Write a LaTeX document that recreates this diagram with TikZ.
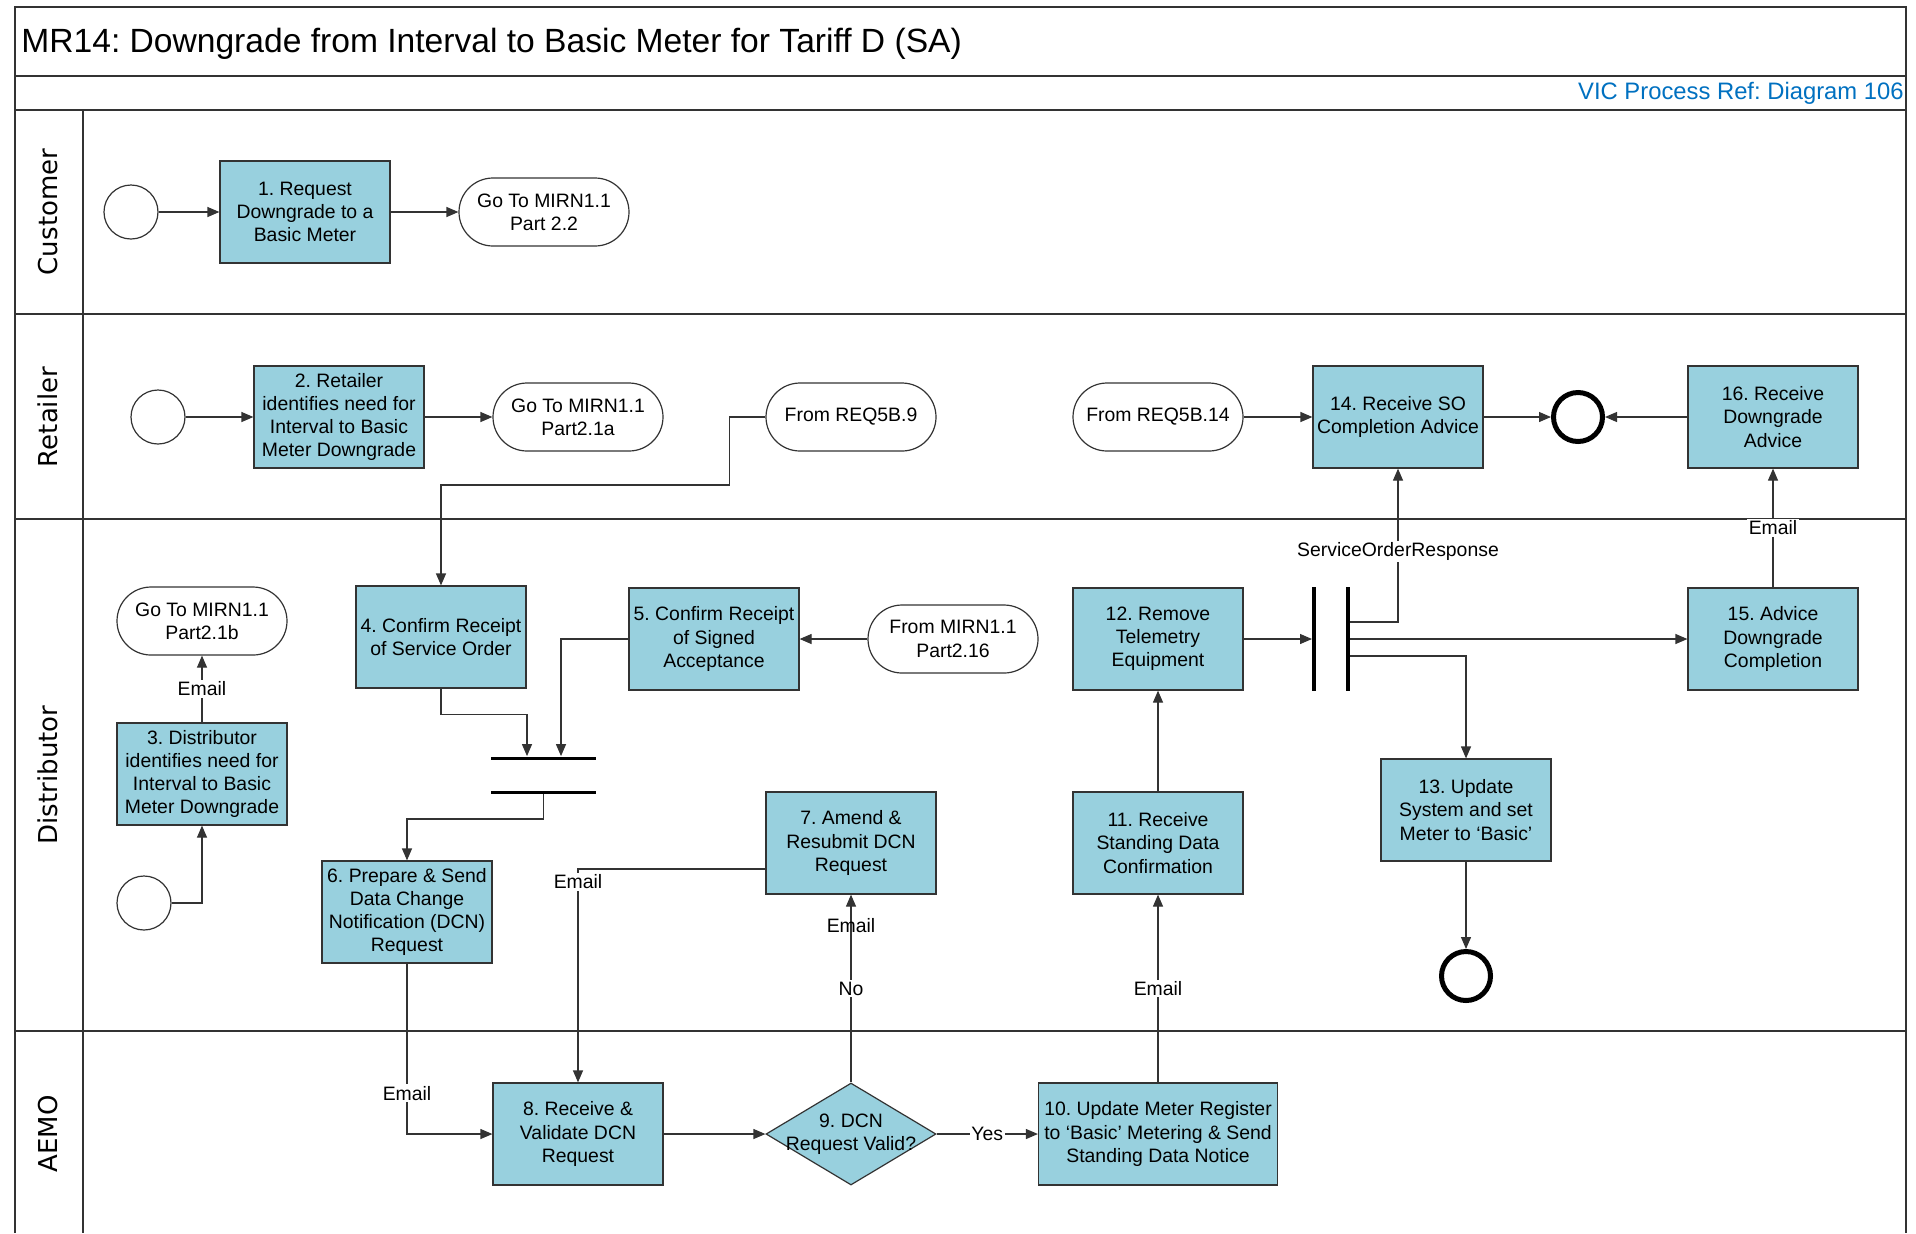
\documentclass[tikz,border=0pt]{standalone}
\usepackage{fontspec}
\setmainfont{Liberation Sans}
\newfontfamily\lanefont{DejaVu Sans}
\usetikzlibrary{shapes.geometric, arrows.meta}
\definecolor{taskblue}{RGB}{152,208,222}
\definecolor{refblue}{RGB}{0,112,192}
\frenchspacing
\tikzset{
  font={\fontsize{9.7pt}{11.6pt}\selectfont},
  task/.style={draw=black!80, fill=taskblue, line width=0.6pt, shape=rectangle, minimum width=85pt, minimum height=51pt, align=center, inner sep=1pt},
  link/.style={draw=black!80, fill=white, line width=0.6pt, shape=rectangle, rounded corners=17pt, minimum width=85pt, minimum height=34pt, align=center},
  startev/.style={draw=black!80, line width=0.6pt, shape=circle, minimum size=27pt, inner sep=0pt},
  endev/.style={draw=black, line width=2.5pt, shape=circle, minimum size=24.5pt, inner sep=0pt},
  decision/.style={draw=black!80, fill=taskblue, line width=0.6pt, shape=diamond, minimum width=85pt, minimum height=51pt, inner sep=0pt},
  vbar/.style={fill=black, shape=rectangle, minimum width=1.6pt, minimum height=52pt, inner sep=0pt},
  hbar/.style={fill=black, shape=rectangle, minimum width=52.5pt, minimum height=1.5pt, inner sep=0pt},
  flow/.style={draw=black!80, line width=0.6pt, -{Triangle[length=6pt,width=5pt]}},
  tag/.style={fill=white, inner sep=0.8pt},
  lanetitle/.style={font={\lanefont\fontsize{13pt}{15pt}\selectfont}, rotate=90},
  border/.style={draw=black!80, line width=0.9pt}
}
\begin{document}
\begin{tikzpicture}[x=0.5pt, y=-0.5pt]
\useasboundingbox (0,0) rectangle (1916,1233);
\draw[border] (15,1233) -- (15,7) -- (1906,7) -- (1906,1233);
\draw[border] (15,76) -- (1906,76) (15,110) -- (1906,110) (15,314) -- (1906,314)
  (15,519) -- (1906,519) (15,1031) -- (1906,1031) (83,110) -- (83,1233);

\node (title) [anchor=base west, inner sep=0pt, font={\fontsize{16.8pt}{20pt}\selectfont}] at (21,52) {MR14: Downgrade from Interval to Basic Meter for Tariff D (SA)};
\node (ref) [anchor=base east, inner sep=0pt, text=refblue, font={\fontsize{11.9pt}{14pt}\selectfont}] at (1904,99) {VIC Process Ref: Diagram 106};

\node (lc) [lanetitle] at (48,212) {Customer};
\node (lr) [lanetitle] at (48,417) {Retailer};
\node (ld) [lanetitle] at (48,775) {Distributor};
\node (la) [lanetitle] at (48,1134) {AEMO};

\node (s1) [startev] at (131,212) {};
\node (b1) [task] at (305,212) {1. Request\\Downgrade to a\\Basic Meter};
\node (go22) [link] at (544,212) {Go To MIRN1.1\\Part 2.2};

\node (s2) [startev] at (158,417) {};
\node (b2) [task] at (339,417) {2. Retailer\\identifies need for\\Interval to Basic\\Meter Downgrade};
\node (go21a) [link] at (578,417) {Go To MIRN1.1\\Part2.1a};
\node (req9) [link] at (851,417) {From REQ5B.9};
\node (req14) [link] at (1158,417) {From REQ5B.14};
\node (b14) [task] at (1398,417) {14. Receive SO\\Completion Advice};
\node (endr) [endev] at (1578,417) {};
\node (b16) [task] at (1773,417) {16. Receive\\Downgrade\\Advice};

\node (go21b) [link] at (202,621) {Go To MIRN1.1\\Part2.1b};
\node (b3) [task] at (202,774) {3. Distributor\\identifies need for\\Interval to Basic\\Meter Downgrade};
\node (s3) [startev] at (144,903) {};
\node (b4) [task] at (441,637) {4. Confirm Receipt\\of Service Order};
\node (b5) [task] at (714,639) {5. Confirm Receipt\\of Signed\\Acceptance};
\node (mirn216) [link] at (953,639) {From MIRN1.1\\Part2.16};
\node (b12) [task] at (1158,639) {12. Remove\\Telemetry\\Equipment};
\node (fk1) [vbar] at (1314,639) {};
\node (fk2) [vbar] at (1348,639) {};
\node (b15) [task] at (1773,639) {15. Advice\\Downgrade\\Completion};
\node (jn1) [hbar] at (543.5,758) {};
\node (jn2) [hbar] at (543.5,792) {};
\node (b13) [task] at (1466,810) {13. Update\\System and set\\Meter to ‘Basic’};
\node (endd) [endev] at (1466,976) {};
\node (b6) [task] at (407,912) {6. Prepare \& Send\\Data Change\\Notification (DCN)\\Request};
\node (b7) [task] at (851,843) {7. Amend \&\\Resubmit DCN\\Request};
\node (b11) [task] at (1158,843) {11. Receive\\Standing Data\\Confirmation};

\node (b8) [task] at (578,1134) {8. Receive \&\\Validate DCN\\Request};
\node (d9) [decision, label={[align=center]center:9. DCN\\Request Valid?}] at (851,1134) {};
\node (b10) [task, minimum width=119.5pt] at (1158,1134) {10. Update Meter Register\\to ‘Basic’ Metering \& Send\\Standing Data Notice};

\draw[flow] (s1) -- (b1);
\draw[flow] (b1) -- (go22);
\draw[flow] (s2) -- (b2);
\draw[flow] (b2) -- (go21a);
\draw[flow] (req9.west) -- ++(-36,0) -- ++(0,68) -| (b4.north);
\draw[flow] (req14) -- (b14);
\draw[flow] (b14) -- (endr);
\draw[flow] (b16) -- (endr);
\draw[flow] (b3) -- node[tag] {Email} (go21b);
\draw[flow] (s3) -| (b3.south);
\draw[flow] (b4.south) -- ++(0,26) -| ([xshift=-8.25pt]jn1.north);
\draw[flow] (mirn216) -- (b5);
\draw[flow] (b5.west) -| ([xshift=8.75pt]jn1.north);
\draw[flow] (jn2.south) -- ++(0,25) -| (b6.north);
\draw[flow] (b6.south) |- node[tag, pos=0.38] {Email} (b8.west);
\draw[flow] ([yshift=-13pt]b7.west) -| node[tag, pos=0.53] {Email} (b8.north);
\draw[flow] (b8) -- (d9);
\draw[flow] (d9.north) -- node[tag, pos=0.5] {No} node[inner sep=0.8pt, pos=0.835] {Email} (b7.south);
\draw[flow] (d9.east) -- node[tag] {Yes} (b10.west);
\draw[flow] (b10.north) -- node[tag] {Email} (b11.south);
\draw[flow] (b11) -- (b12);
\draw[flow] (b12) -- (fk1);
\draw[flow] (fk2) -- (b15);
\draw[flow] ([yshift=8.5pt]fk2.east) -| node[tag, pos=0.73] {ServiceOrderResponse} (b14.south);
\draw[flow] ([yshift=-8.5pt]fk2.east) -| (b13.north);
\draw[flow] (b13) -- (endd);
\draw[flow] (b15) -- node[tag] {Email} (b16);
\end{tikzpicture}
\end{document}
